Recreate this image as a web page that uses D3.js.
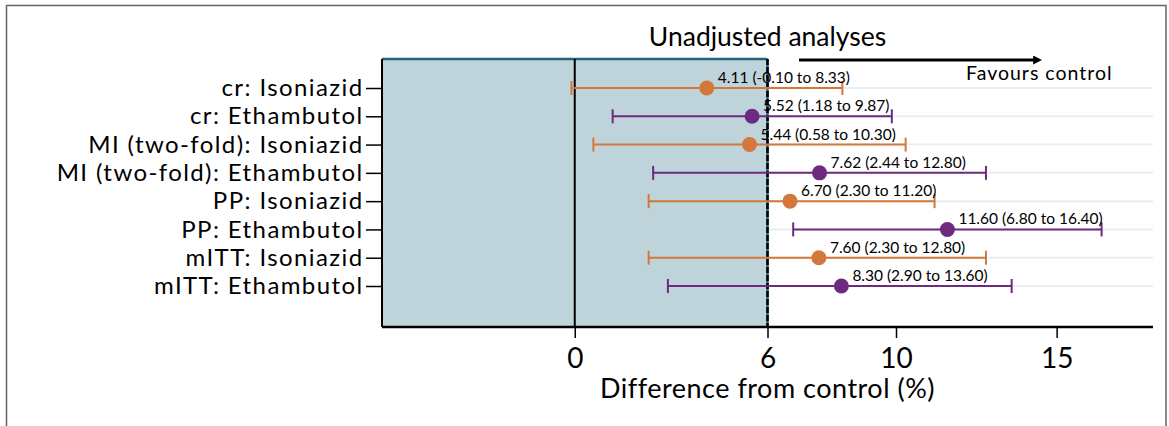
<!DOCTYPE html>
<html>
<head>
<meta charset="utf-8">
<script src="https://cdn.jsdelivr.net/npm/d3@7"></script>
<style>
  html, body { margin: 0; padding: 0; background: #fff; }
  svg { display: block; font-family: Lato, "DejaVu Sans", sans-serif; }
</style>
</head>
<body>
<svg id="chart" width="1169" height="426"></svg>
<script>
// Analyses (rows, top to bottom)
const categories = [
  "cr: Isoniazid",
  "cr: Ethambutol",
  "MI (two-fold): Isoniazid",
  "MI (two-fold): Ethambutol",
  "PP: Isoniazid",
  "PP: Ethambutol",
  "mITT: Isoniazid",
  "mITT: Ethambutol"
];
const drugs = ["Isoniazid", "Ethambutol", "Isoniazid", "Ethambutol", "Isoniazid", "Ethambutol", "Isoniazid", "Ethambutol"];
const estimates = [4.11, 5.52, 5.44, 7.62, 6.70, 11.60, 7.60, 8.30];
const lowerCI   = [-0.10, 1.18, 0.58, 2.44, 2.30, 6.80, 2.30, 2.90];
const upperCI   = [8.33, 9.87, 10.30, 12.80, 11.20, 16.40, 12.80, 13.60];
const xTicks = [0, 6, 10, 15];
const margin = 6;   // non-inferiority margin (%)

const rows = categories.map((c, i) => ({
  cat: c, drug: drugs[i], est: estimates[i], lo: lowerCI[i], hi: upperCI[i]
}));

const svg = d3.select("#chart");
const plot = { left: 382, right: 1153, top: 59, bottom: 327 };

const x = d3.scaleLinear().domain([-6, 18]).range([plot.left, plot.right]);
const y = d3.scalePoint().domain(categories).range([88, 286]);
const color = d3.scaleOrdinal().domain(["Isoniazid", "Ethambutol"]).range(["#d4773a", "#6d2a80"]);
// two decimals, plain hyphen for negatives
const fmt = d3.formatLocale({ decimal: ".", thousands: ",", grouping: [3], currency: ["", ""], minus: "-" }).format(".2f");

// outer frame (open at bottom)
svg.append("path")
  .attr("d", `M6.5,426 V5.5 H1166 V426`)
  .attr("fill", "none").attr("stroke", "#666").attr("stroke-width", 1.5);

// row gridlines
svg.append("g").selectAll("line").data(categories).join("line")
  .attr("x1", plot.left).attr("x2", plot.right)
  .attr("y1", d => y(d)).attr("y2", d => y(d))
  .attr("stroke", "#e8eff3").attr("stroke-width", 2);

// shaded region up to the margin
svg.append("rect")
  .attr("x", x(-6)).attr("y", plot.top)
  .attr("width", x(margin) - x(-6)).attr("height", plot.bottom - plot.top)
  .attr("fill", "#bed3da");
svg.append("line")
  .attr("x1", x(-6)).attr("x2", x(margin))
  .attr("y1", plot.top).attr("y2", plot.top)
  .attr("stroke", "#1f6478").attr("stroke-width", 2.5);
svg.append("line")
  .attr("x1", x(margin)).attr("x2", x(margin))
  .attr("y1", plot.top).attr("y2", plot.bottom)
  .attr("stroke", "#1f6478").attr("stroke-width", 2.5);

// zero line and margin line
svg.append("line")
  .attr("x1", x(0)).attr("x2", x(0))
  .attr("y1", plot.top).attr("y2", plot.bottom)
  .attr("stroke", "#000").attr("stroke-width", 2);
svg.append("line")
  .attr("x1", x(margin)).attr("x2", x(margin))
  .attr("y1", plot.top).attr("y2", plot.bottom)
  .attr("stroke", "#000").attr("stroke-width", 2.5)
  .attr("stroke-dasharray", "6,2");

// left axis
const yAxis = svg.append("g")
  .attr("transform", `translate(${plot.left},0)`)
  .call(d3.axisLeft(y).tickSize(16).tickPadding(2.5));
yAxis.select(".domain").attr("stroke", "#000").attr("stroke-width", 2)
  .attr("d", `M0,${plot.top}V${plot.bottom}`);
yAxis.selectAll(".tick line").attr("stroke", "#000").attr("stroke-width", 1.5);
yAxis.selectAll(".tick text")
  .attr("font-size", 24).attr("fill", "#000")
  .attr("letter-spacing", 1.4)
  .attr("font-family", "Lato, sans-serif");

// bottom axis
const xAxis = svg.append("g")
  .attr("transform", `translate(0,${plot.bottom})`)
  .call(d3.axisBottom(x).tickValues(xTicks).tickFormat(d3.format("d")).tickSize(11).tickPadding(10));
xAxis.select(".domain").attr("stroke", "#000").attr("stroke-width", 2.5)
  .attr("d", `M${plot.left},0H${plot.right}`);
xAxis.selectAll(".tick line").attr("stroke", "#000").attr("stroke-width", 1.5);
xAxis.selectAll(".tick text")
  .attr("font-size", 28).attr("fill", "#000")
  .attr("font-family", "Lato, sans-serif");

// axis title
svg.append("text")
  .attr("x", (plot.left + plot.right) / 2).attr("y", 398)
  .attr("text-anchor", "middle").attr("font-size", 27).attr("fill", "#000")
  .attr("letter-spacing", 0.5)
  .text("Difference from control (%)");

// chart title
svg.append("text")
  .attr("x", (plot.left + plot.right) / 2).attr("y", 46)
  .attr("text-anchor", "middle").attr("font-size", 26.5).attr("fill", "#000")
  .text("Unadjusted analyses");

// direction arrow
svg.append("defs").append("marker")
  .attr("id", "arrowhead").attr("viewBox", "0 0 10 10")
  .attr("refX", 1).attr("refY", 5)
  .attr("markerWidth", 3).attr("markerHeight", 3).attr("orient", "auto")
  .append("path").attr("d", "M0,0 L10,5 L0,10 z").attr("fill", "#000");
svg.append("line")
  .attr("x1", 799).attr("x2", 1034).attr("y1", 60).attr("y2", 60)
  .attr("stroke", "#000").attr("stroke-width", 3)
  .attr("marker-end", "url(#arrowhead)");
svg.append("text")
  .attr("x", 966).attr("y", 80)
  .attr("font-size", 19.5).attr("fill", "#000")
  .attr("letter-spacing", 1)
  .text("Favours control");

// error bars
const g = svg.append("g");
const bars = g.selectAll("g.row").data(rows).join("g").attr("class", "row");
bars.append("line")
  .attr("x1", d => x(d.lo)).attr("x2", d => x(d.hi))
  .attr("y1", d => y(d.cat)).attr("y2", d => y(d.cat))
  .attr("stroke", d => color(d.drug)).attr("stroke-width", 2);
bars.selectAll("line.cap").data(d => [d.lo, d.hi].map(v => ({ v, d }))).join("line")
  .attr("class", "cap")
  .attr("x1", c => x(c.v)).attr("x2", c => x(c.v))
  .attr("y1", c => y(c.d.cat) - 7).attr("y2", c => y(c.d.cat) + 7)
  .attr("stroke", c => color(c.d.drug)).attr("stroke-width", 2);
bars.append("circle")
  .attr("cx", d => x(d.est)).attr("cy", d => y(d.cat)).attr("r", 7.5)
  .attr("fill", d => color(d.drug));
bars.append("text")
  .attr("x", d => x(d.est) + 11).attr("y", d => y(d.cat) - 5)
  .attr("font-size", 15.5).attr("fill", "#000")
  .text(d => `${fmt(d.est)} (${fmt(d.lo)} to ${fmt(d.hi)})`);
</script>
</body>
</html>
